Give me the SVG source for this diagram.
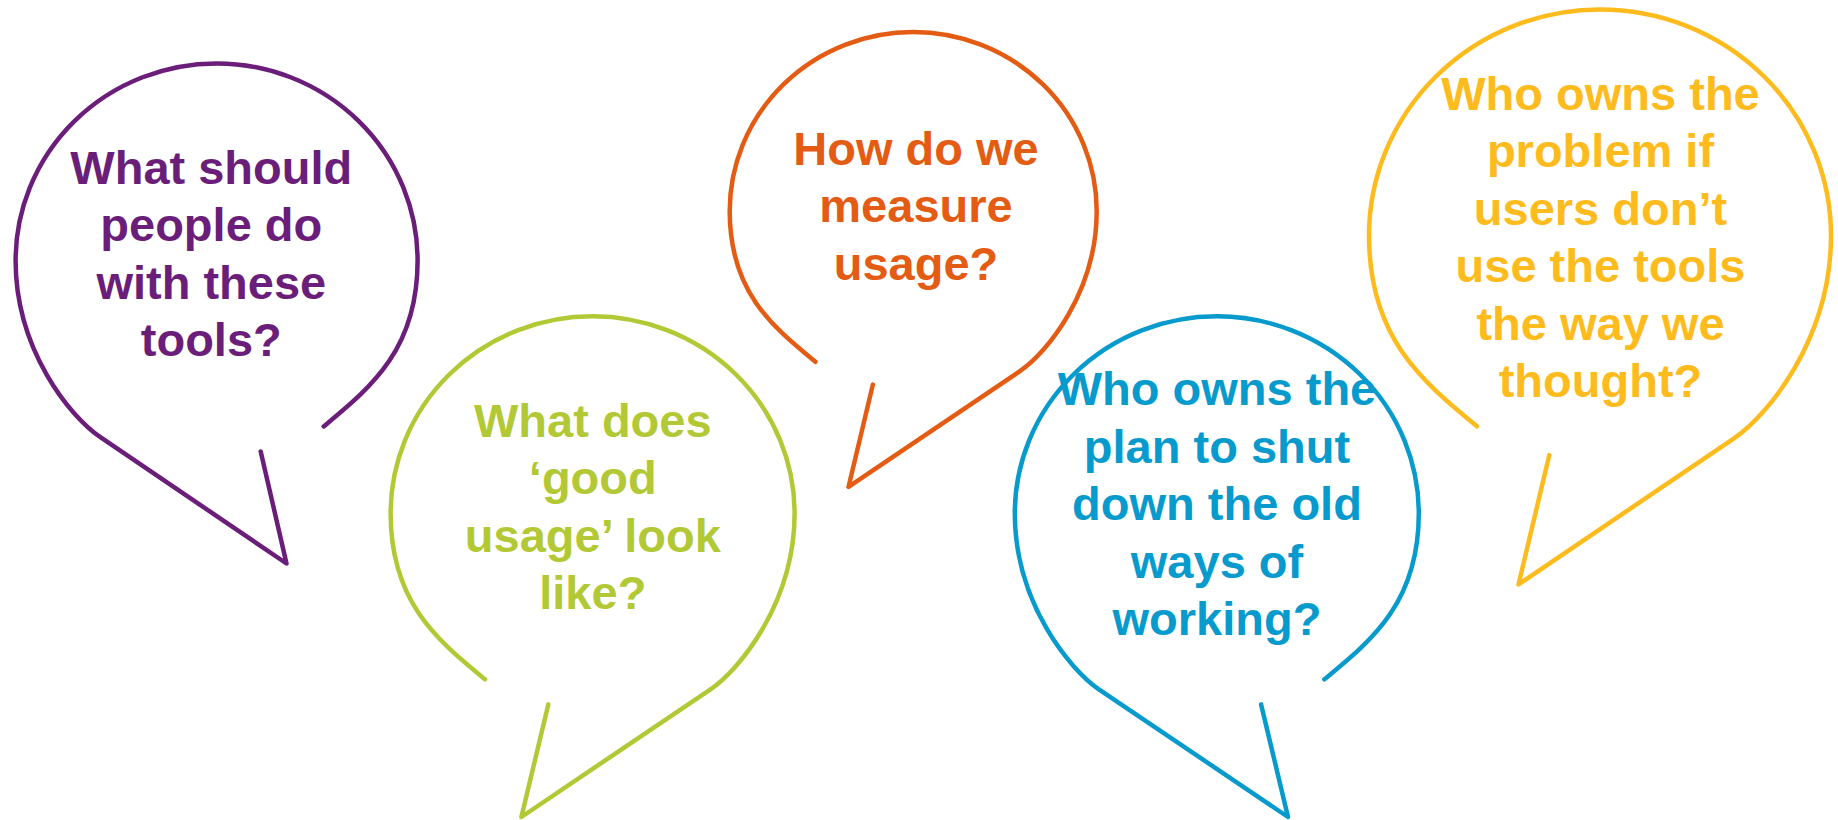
<svg xmlns="http://www.w3.org/2000/svg" width="1838" height="820" viewBox="0 0 1838 820">
<style>
.b{fill:none;stroke-width:4.5;stroke-linecap:round;stroke-linejoin:round}
.t{font-family:"Liberation Sans",Arial,sans-serif;font-weight:bold;font-size:47px;text-anchor:middle}
.purple .b{stroke:#6A1E7A}.purple .t{fill:#6A1E7A}
.green .b{stroke:#B2C935}.green .t{fill:#B2C935}
.orange .b{stroke:#E45C13}.orange .t{fill:#E45C13}
.blue .b{stroke:#079ACD}.blue .t{fill:#079ACD}
.yellow .b{stroke:#FEBB1D}.yellow .t{fill:#FEBB1D}
</style>
<rect width="1838" height="820" fill="#FFFFFF"/>
<g id="bubble-purple" class="purple">
<path class="b" d="M260.7,451.5 L286.5,563.5 L100,436.9 C71,417.4 15.6,350.4 15.6,260.4 A201 197 0 0 1 216.6,63.4 A201 197 0 0 1 417.6,260.4 C417.6,350.4 369.9,388 323.7,426.4"/>
<text class="t" x="211.3" y="183.9"><tspan x="211.3">What should</tspan><tspan x="211.3" dy="57.4">people do</tspan><tspan x="211.3" dy="57.4">with these</tspan><tspan x="211.3" dy="57.4">tools?</tspan></text>
</g>
<g id="bubble-green" class="green">
<path class="b" d="M548.3,704.4 L521.4,817 L709.8,689.8 C738.9,670.3 794.6,603.3 794.6,513.3 A202 197 0 0 0 592.6,316.3 A202 197 0 0 0 390.6,513.3 C390.6,603.3 438.5,640.9 485,679.3"/>
<text class="t" x="592.8" y="436.7"><tspan x="592.8">What does</tspan><tspan x="592.8" dy="57.5">‘good</tspan><tspan x="592.8" dy="57.5">usage’ look</tspan><tspan x="592.8" dy="57.5">like?</tspan></text>
</g>
<g id="bubble-orange" class="orange">
<path class="b" d="M872.9,384.6 L848.5,486.9 L1019.6,371.4 C1046.1,353.7 1096.7,292.8 1096.7,211 A183.5 179 0 0 0 913.2,32 A183.5 179 0 0 0 729.7,211 C729.7,292.8 773.2,326.9 815.4,361.8"/>
<text class="t" x="916" y="164.5"><tspan x="916">How do we</tspan><tspan x="916" dy="57.5">measure</tspan><tspan x="916" dy="57.5">usage?</tspan></text>
</g>
<g id="bubble-blue" class="blue">
<path class="b" d="M1261.1,704.4 L1288,817 L1099.6,689.8 C1070.5,670.3 1014.8,603.3 1014.8,513.3 A202 197 0 0 1 1216.8,316.3 A202 197 0 0 1 1418.8,513.3 C1418.8,603.3 1370.9,640.9 1324.4,679.3"/>
<text class="t" x="1217" y="405.3"><tspan x="1217">Who owns the</tspan><tspan x="1217" dy="57.5">plan to shut</tspan><tspan x="1217" dy="57.5">down the old</tspan><tspan x="1217" dy="57.5">ways of</tspan><tspan x="1217" dy="57.5">working?</tspan></text>
</g>
<g id="bubble-yellow" class="yellow">
<path class="b" d="M1549.3,455.1 L1518.5,584.4 L1734,438.4 C1767.3,416 1831,339.1 1831,235.7 A231 226.2 0 0 0 1600,9.5 A231 226.2 0 0 0 1369,235.7 C1369,339.1 1423.8,382.2 1476.9,426.3"/>
<text class="t" x="1600.5" y="109.8"><tspan x="1600.5">Who owns the</tspan><tspan x="1600.5" dy="57.5">problem if</tspan><tspan x="1600.5" dy="57.5">users don’t</tspan><tspan x="1600.5" dy="57.5">use the tools</tspan><tspan x="1600.5" dy="57.5">the way we</tspan><tspan x="1600.5" dy="57.5">thought?</tspan></text>
</g>
</svg>
